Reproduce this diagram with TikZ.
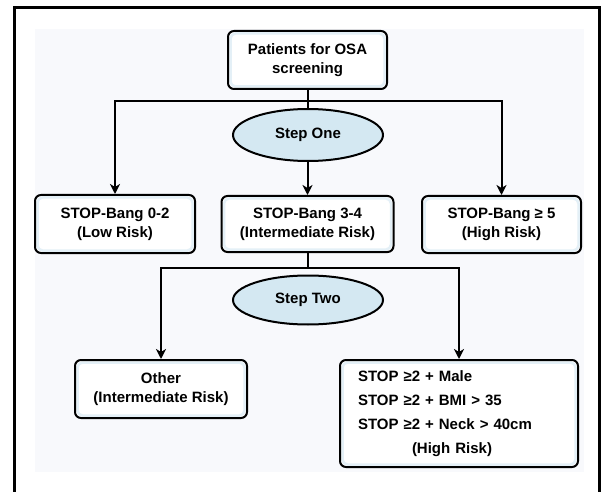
\documentclass[tikz,border=0pt]{standalone}
\usepackage{fontspec}
\setmainfont{Liberation Sans}
\usetikzlibrary{shapes.geometric,arrows.meta}
\definecolor{bgpanel}{RGB}{248,249,252}
\definecolor{ellfill}{RGB}{212,232,242}
\definecolor{tint}{RGB}{228,240,247}
\begin{document}
\begin{tikzpicture}[x=1pt,y=-1pt,
  txt/.style={font=\fontsize{15}{19}\selectfont\bfseries},
  box/.style={txt, draw=black, line width=2pt, rounded corners=6pt, fill=white, align=center, inner sep=0pt,
    path picture={\draw[tint, line width=2.5pt, rounded corners=5pt]
      ([shift={(2.5pt,-2.5pt)}]path picture bounding box.north west) rectangle
      ([shift={(-2.5pt,2.5pt)}]path picture bounding box.south east);}},
  oval/.style={txt, ellipse, draw=black, line width=2pt, fill=ellfill, inner sep=0pt},
  conn/.style={line width=2pt},
  arr/.style={line width=2pt, -{Stealth[length=10pt,width=10pt,inset=3pt]}}]
\useasboundingbox (0,0) rectangle (603,492);
\fill[bgpanel] (35,29) rectangle (584,472);
\draw[line width=3pt] (14,495) -- (14,8) -- (599,8) -- (599,495);

\node[box, minimum width=159pt, minimum height=58pt] (top) at (307.5,60) {Patients for OSA\\screening};
\node[box, minimum width=160pt, minimum height=58pt] (b1) at (115,224) {STOP-Bang 0-2\\(Low Risk)};
\node[box, minimum width=172pt, minimum height=56pt] (b2) at (307.5,224) {STOP-Bang 3-4\\(Intermediate Risk)};
\node[box, minimum width=159pt, minimum height=57pt] (b3) at (501.5,224.5) {STOP-Bang ≥ 5\\(High Risk)};
\node[box, minimum width=172pt, minimum height=58pt] (b4) at (161,389) {Other\\(Intermediate Risk)};
\node[box, minimum width=238pt, minimum height=107pt, text width=202pt, align=left,
      font=\fontsize{15}{24}\selectfont\bfseries] (b5) at (459,413.5)
  {STOP ≥2 + Male\\STOP ≥2 + BMI > 35\\STOP ≥2 + Neck > 40cm\\\hspace*{54pt}(High Risk)};

\coordinate (j1) at (top.south |- 0,101);
\coordinate (j2) at (b2.south |- 0,268);
\draw[conn] (top.south) -- (j1);
\draw[arr] (j1) -| (b1.north);
\draw[arr] (j1) -| (b3.north);
\draw[arr] (j1) -- (b2.north);
\draw[conn] (b2.south) -- (j2);
\draw[arr] (j2) -| (b4.north);
\draw[arr] (j2) -| (b5.north);

\node[oval, minimum width=150pt, minimum height=52pt] (s1) at (308,135) {Step One};
\node[oval, minimum width=150pt, minimum height=49pt] (s2) at (308,300) {Step Two};
\end{tikzpicture}
\end{document}
